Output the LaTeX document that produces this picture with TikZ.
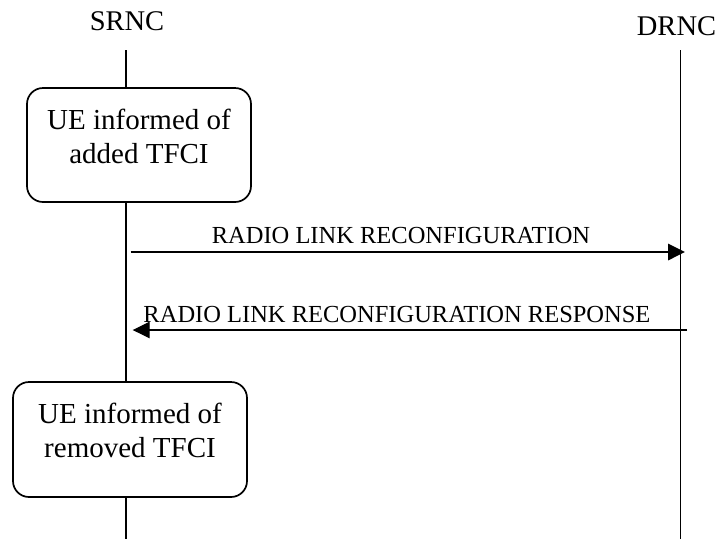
\documentclass[tikz,border=0pt]{standalone}
\usepackage{fontspec}
\setmainfont{Liberation Serif}
\usepackage{tikz}
\usetikzlibrary{arrows.meta}

\tikzset{
  lifeline/.style = {line width=1.7pt},
  entity/.style = {font=\fontsize{28.5}{34}\selectfont, inner sep=0pt, anchor=base},
  procbox/.style = {draw, line width=1.7pt, rounded corners=16pt, fill=white, inner sep=0pt},
  boxtext/.style = {align=center, font=\fontsize{29}{34}\selectfont, inner sep=0pt},
  msgtext/.style = {font=\fontsize{24.5}{29}\selectfont, inner sep=0pt, anchor=base},
  msg/.style = {-{Triangle[length=17pt,width=16.5pt]}},
}

\begin{document}
\begin{tikzpicture}[x=1pt, y=-1pt]
 \useasboundingbox (0,0) rectangle (719,539);
 % entities and lifelines
 \node[entity] (srnc) at (127,30) {SRNC};
 \node[entity] (drnc) at (676.5,35) {DRNC};
 \coordinate (srnctop) at (126,50);
 \coordinate (srncbot) at (126,539);
 \coordinate (drnctop) at (680.5,50);
 \coordinate (drncbot) at (680.5,539);
 \draw[lifeline] (srnctop) -- (srncbot);
 \draw[lifeline] (drnctop) -- (drncbot);
 % procedure boxes
 \node[procbox, minimum width=224pt, minimum height=114pt] (added) at (139,145) {};
 \node[boxtext] (addedtxt) at ([yshift=8.5pt]added.center) {UE informed of\\added TFCI};
 \node[procbox, minimum width=234pt, minimum height=115pt] (removed) at (130,439.5) {};
 \node[boxtext] (removedtxt) at ([yshift=9pt]removed.center) {UE informed of\\removed TFCI};
 % messages
 \coordinate (reqs) at (130.7,252);
 \coordinate (reqe) at (685,252);
 \draw[msg, line width=1.8pt] (reqs) -- (reqe);
 \node[msgtext] (req) at (401,243) {RADIO LINK RECONFIGURATION};
 \coordinate (rsps) at (687,330);
 \coordinate (rspe) at (132.7,330);
 \draw[msg, line width=1.2pt] (rsps) -- (rspe);
 \node[msgtext] (rsp) at (397,322) {RADIO LINK RECONFIGURATION RESPONSE};
\end{tikzpicture}
\end{document}
